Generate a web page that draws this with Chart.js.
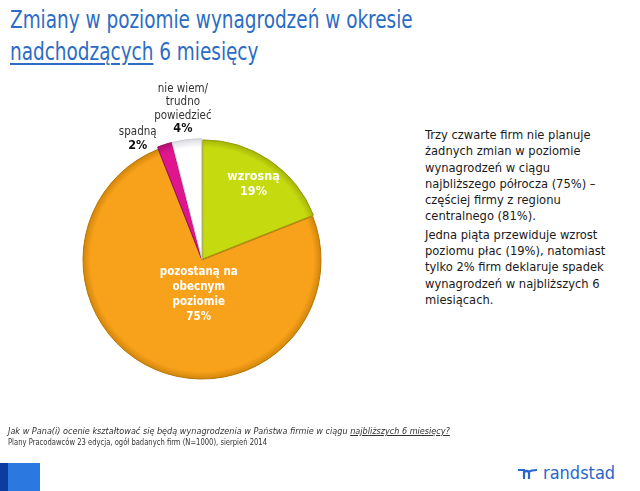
<!DOCTYPE html>
<html>
<head>
<meta charset="utf-8">
<script src="https://cdn.jsdelivr.net/npm/chart.js@4.4.1/dist/chart.umd.min.js"></script>
<style>
  html, body { margin: 0; padding: 0; background: #ffffff; }
  body { width: 640px; height: 491px; position: relative; overflow: hidden;
         font-family: "DejaVu Sans Condensed", "DejaVu Sans", sans-serif; }
  #title { position: absolute; left: 10px; top: 4px; color: #2b6cc4; font-size: 25px;
           line-height: 32px; white-space: nowrap; transform: scaleX(0.82); transform-origin: 0 0; }
  #title u { text-decoration-thickness: 1.5px; text-underline-offset: 3px; }
  #chartBox { position: absolute; left: 2px; top: 60px; width: 400px; height: 400px; }
  #side { position: absolute; left: 425px; top: 127px; color: #1a1a1a; white-space: nowrap;
          font-size: 12.8px; line-height: 16.3px; }
  #side p { margin: 0 0 2px 0; }
  #note { position: absolute; left: 8px; top: 426px; font-size: 8.6px; line-height: 11px; color: #333; white-space: nowrap; }
  #note i { display: inline-block; transform: scaleX(1.05); transform-origin: 0 0; }
  #note span { display: inline-block; transform: scaleX(0.88); transform-origin: 0 0; }
  #note i u { text-underline-offset: 1px; }
  #sqDark { position: absolute; left: 0; top: 463px; width: 8px; height: 28px; background: #0d3c9e; }
  #sqLight { position: absolute; left: 8px; top: 463px; width: 32px; height: 28px; background: #2a78e0; }
  #logo { position: absolute; left: 517px; top: 462px; color: #2a66cc; font-size: 18px; white-space: nowrap;
          font-family: "DejaVu Sans Condensed", "DejaVu Sans", sans-serif; }
  #logo svg { vertical-align: -1px; margin-right: 4px; }
</style>
</head>
<body>
<div id="title">Zmiany w poziomie wynagrodzeń w okresie<br><u>nadchodzących</u> 6 miesięcy</div>
<div id="chartBox"><canvas id="c" width="400" height="400"></canvas></div>
<div id="side">
  <p>Trzy czwarte firm nie planuje<br>żadnych zmian w poziomie<br>wynagrodzeń w ciągu<br>najbliższego półrocza (75%) –<br>częściej firmy z regionu<br>centralnego (81%).</p>
  <p>Jedna piąta przewiduje wzrost<br>poziomu płac (19%), natomiast<br>tylko 2% firm deklaruje spadek<br>wynagrodzeń w najbliższych 6<br>miesiącach.</p>
</div>
<div id="note"><i>Jak w Pana(i) ocenie kształtować się będą wynagrodzenia w Państwa firmie w ciągu <u>najbliższych 6 miesięcy?</u></i><br><span>Plany Pracodawców 23 edycja, ogół badanych firm (N=1000), sierpień 2014</span></div>
<div id="sqDark"></div><div id="sqLight"></div>
<div id="logo"><svg width="22" height="12" viewBox="0 0 22 12"><path d="M1 2 H7 V11 M7 4 Q10 2 12 4 M12 4 V11 M12 4 Q14 2 20 2" fill="none" stroke="#2a66cc" stroke-width="2.2"/></svg>randstad</div>

<script>
// ---- data ----
const categories = ['wzrosną', 'pozostaną na obecnym poziomie', 'spadną', 'nie wiem/ trudno powiedzieć'];
const labelLines = [['wzrosną'], ['pozostaną na', 'obecnym', 'poziomie'], ['spadną'], ['nie wiem/', 'trudno', 'powiedzieć']];
const values = [19, 75, 2, 4];

// ---- styles ----
const sliceColors = ['#c6da10', '#f8a11b', '#e0168f', '#ffffff'];
const sliceEdge = ['#8f9d00', '#b87400', '#9a0a60', '#c9c9d4'];
const sliceOffset = [5, 0, 5, 5];
const labelInside = [true, true, false, false];
// label placement: [angle shift from slice middle (deg), distance in radii]
const labelPolar = [[0, 0.77], [-18, 0.29], [-10, 1.15], [0, 1.28]];

function shade(ctx, i) {
  const chart = ctx.chart;
  const area = chart.chartArea;
  if (!area) return sliceColors[i];
  const cx = (area.left + area.right) / 2, cy = (area.top + area.bottom) / 2;
  const g = chart.ctx.createRadialGradient(cx, cy, 0, cx, cy, 124);
  g.addColorStop(0, sliceColors[i]);
  g.addColorStop(0.9, sliceColors[i]);
  g.addColorStop(1, sliceEdge[i]);
  return g;
}

const labelPlugin = {
  id: 'sliceLabels',
  afterDatasetsDraw(chart) {
    const meta = chart.getDatasetMeta(0);
    const c = chart.ctx;
    c.save();
    c.textAlign = 'center';
    c.textBaseline = 'middle';
    meta.data.forEach((arc, i) => {
      const p = arc.getProps(['x', 'y', 'startAngle', 'endAngle', 'outerRadius'], true);
      const mid = (p.startAngle + p.endAngle) / 2 + labelPolar[i][0] * Math.PI / 180;
      const r = p.outerRadius * labelPolar[i][1];
      const x = p.x + Math.cos(mid) * r;
      const y = p.y + Math.sin(mid) * r;
      const lines = labelLines[i].slice();
      const pct = values[i] + '%';
      const all = lines.concat([pct]);
      if (labelInside[i]) {
        c.fillStyle = '#ffffff';
        c.font = 'bold ' + (i === 0 ? 12.5 : 11.5) + 'px "DejaVu Sans Condensed", "DejaVu Sans", sans-serif';
        const lh = 15;
        all.forEach((t, k) => c.fillText(t, x, y + (k - (all.length - 1) / 2) * lh));
      } else {
        const lh = 13.5;
        all.forEach((t, k) => {
          const isPct = k === all.length - 1;
          c.fillStyle = isPct ? '#111111' : '#333333';
          c.font = (isPct ? 'bold 12.5px ' : '11.5px ') + '"DejaVu Sans Condensed", "DejaVu Sans", sans-serif';
          c.fillText(t, x, y + (k - (all.length - 1) / 2) * lh);
        });
      }
    });
    c.restore();
  }
};

new Chart(document.getElementById('c'), {
  type: 'pie',
  data: {
    labels: categories,
    datasets: [{
      data: values,
      backgroundColor: (ctx) => shade(ctx, ctx.dataIndex),
      borderColor: sliceEdge,
      borderWidth: 1,
      offset: sliceOffset,
      radius: 119
    }]
  },
  options: {
    responsive: false,
    animation: false,
    events: [],
    plugins: { legend: { display: false }, tooltip: { enabled: false } }
  },
  plugins: [labelPlugin]
});
</script>
</body>
</html>
